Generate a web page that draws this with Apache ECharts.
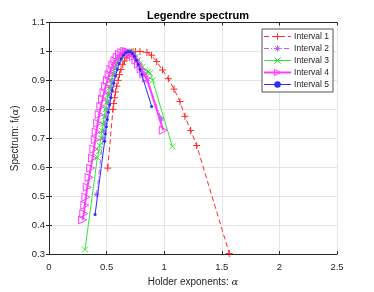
<!DOCTYPE html>
<html><head><meta charset="utf-8">
<script src="https://cdn.jsdelivr.net/npm/echarts@6/dist/echarts.min.js"></script>
<style>html,body{margin:0;padding:0;background:#fff}#c{width:374px;height:292px}</style>
</head><body><div id="c"></div>
<script>
const seriesNames = ['Interval 1','Interval 2','Interval 3','Interval 4','Interval 5'];
const xTicks = [0,0.5,1,1.5,2,2.5];
const yTicks = [0.3,0.4,0.5,0.6,0.7,0.8,0.9,1,1.1];

const interval1 = [[0.51,0.597],[0.555,0.80],[0.562,0.82],[0.57,0.84],[0.578,0.86],[0.588,0.88],[0.60,0.90],[0.612,0.92],[0.625,0.938],[0.64,0.954],[0.655,0.967],[0.67,0.978],[0.685,0.987],[0.70,0.993],[0.715,0.997],[0.73,0.999],[0.75,1.0],[0.79,1.0],[0.85,0.997],[0.89,0.987],[0.935,0.965],[0.985,0.936],[1.036,0.906],[1.085,0.87],[1.137,0.827],[1.18,0.776],[1.23,0.727],[1.282,0.675],[1.565,0.302]];
const interval2 = [[0.414,0.506],[0.468,0.70],[0.476,0.725],[0.484,0.75],[0.493,0.775],[0.502,0.80],[0.512,0.825],[0.523,0.85],[0.535,0.875],[0.548,0.90],[0.563,0.923],[0.58,0.945],[0.598,0.963],[0.617,0.978],[0.637,0.99],[0.657,0.997],[0.678,1.0],[0.698,0.999],[0.718,0.994],[0.738,0.985],[0.758,0.972],[0.778,0.957],[0.80,0.94],[0.825,0.92],[0.85,0.9],[0.975,0.767]];
const interval3 = [[0.3125,0.316],[0.42,0.634],[0.432,0.655],[0.44,0.675],[0.45,0.70],[0.46,0.725],[0.47,0.75],[0.48,0.775],[0.49,0.80],[0.50,0.825],[0.512,0.85],[0.525,0.875],[0.54,0.90],[0.555,0.922],[0.572,0.943],[0.59,0.962],[0.61,0.978],[0.63,0.99],[0.65,0.997],[0.67,1.0],[0.69,1.0],[0.71,0.997],[0.73,0.99],[0.75,0.981],[0.77,0.97],[0.79,0.958],[0.81,0.946],[0.835,0.935],[0.86,0.93],[0.878,0.925],[0.90,0.90],[1.07,0.672]];
const interval4 = [[0.292,0.418],[0.302,0.44],[0.311,0.469],[0.32,0.497],[0.332,0.531],[0.348,0.565],[0.362,0.597],[0.378,0.632],[0.39,0.663],[0.402,0.695],[0.41,0.722],[0.423,0.752],[0.436,0.782],[0.45,0.81],[0.465,0.835],[0.478,0.858],[0.492,0.88],[0.507,0.9],[0.522,0.92],[0.538,0.938],[0.555,0.954],[0.573,0.968],[0.592,0.98],[0.612,0.99],[0.632,0.996],[0.653,1.0],[0.673,1.0],[0.693,0.997],[0.713,0.991],[0.733,0.982],[0.755,0.97],[0.777,0.956],[0.80,0.94],[0.822,0.923],[0.848,0.908],[0.992,0.728]];
const interval5 = [[0.40,0.437],[0.483,0.69],[0.49,0.715],[0.498,0.74],[0.507,0.765],[0.516,0.79],[0.526,0.815],[0.537,0.84],[0.549,0.865],[0.562,0.89],[0.577,0.915],[0.593,0.938],[0.61,0.958],[0.628,0.975],[0.647,0.988],[0.667,0.996],[0.687,1.0],[0.707,0.999],[0.725,0.993],[0.742,0.983],[0.758,0.97],[0.774,0.955],[0.79,0.938],[0.805,0.92],[0.891,0.81]];

const dataAll = [interval1, interval2, interval3, interval4, interval5];
const colors = ['#ff2a2a','#b060ff','#33e633','#ff3dff','#2b2bff'];
const plusPath = 'path://M5,0 L5,10 M0,5 L10,5';
const xPath = 'path://M0,0 L10,10 M0,10 L10,0';
const starPath = 'path://M5,0 L5,10 M0,5 L10,5 M1.5,1.5 L8.5,8.5 M1.5,8.5 L8.5,1.5';
const triPath = 'path://M0,0 L10,5 L0,10 Z';
const symbols = [plusPath, starPath, xPath, triPath, 'circle'];
const symSizes = [7, 6, 6, 8, 3];
const lineTypes = [[5,3],[5,2,1,2],'solid','solid','solid'];
const lineWidths = [1,1,1,2,1];

const axisColor = '#262626';
const font = '"Liberation Sans", Arial, sans-serif';

function markStyle(i){
  return i===4 ? {color:colors[i], borderWidth:0} : {color:'rgba(0,0,0,0)', borderColor:colors[i], borderWidth:1};
}
const chart = echarts.init(document.getElementById('c'), null, {renderer:'canvas'});
const fmt = v => String(Math.round(v*10)/10);
const series = dataAll.map((d,i)=>({
  name: seriesNames[i], type:'line', data:d, xAxisIndex:0, yAxisIndex:0,
  symbol: symbols[i], symbolSize: symSizes[i], showAllSymbol:true, animation:false,
  lineStyle:{color:colors[i], width:lineWidths[i], type:lineTypes[i]},
  itemStyle: markStyle(i),
  emphasis:{disabled:true}, z: 2+i
}));
chart.setOption({
  animation:false,
  textStyle:{fontFamily:font},
  title:{text:'Legendre spectrum', left:193, top:5, textAlign:'center',
    textStyle:{fontSize:11, fontWeight:'bold', color:'#000', fontFamily:font}},
  grid:{left:49, right:37, top:22.5, bottom:33, containLabel:false},
  legend:{orient:'vertical', right:41, top:29, itemWidth:27, itemHeight:8, itemGap:3,
    padding:[3,4,3,1], backgroundColor:'#fff', borderColor:axisColor, borderWidth:0.8,
    textStyle:{fontSize:8.5, color:axisColor, fontFamily:font, padding:[0,0,0,-2]},
    data: seriesNames.map((n,i)=>({name:n,
      itemStyle: markStyle(i),
      lineStyle:{color:colors[i], width:lineWidths[i], type:lineTypes[i]}}))},
  xAxis:[{type:'value', min:0, max:2.5, interval:0.5,
    name:'Holder exponents: {i|α}', nameLocation:'middle', nameGap:21,
    nameTextStyle:{fontSize:10, color:axisColor, fontFamily:font, rich:{i:{fontStyle:'italic', fontSize:10, fontFamily:'DejaVu Serif'}}},
    axisLine:{lineStyle:{color:axisColor, width:1}},
    axisTick:{inside:true, length:3, lineStyle:{color:axisColor}},
    axisLabel:{fontSize:9.5, color:axisColor, margin:8, formatter:v=>fmt(v)},
    splitLine:{show:true, lineStyle:{color:'#e5e5e5', width:1}}},
   {type:'value', position:'top', min:0, max:2.5, interval:0.5,
    axisLine:{show:true, lineStyle:{color:axisColor}},
    axisTick:{inside:true, length:3, lineStyle:{color:axisColor}},
    axisLabel:{show:false}, splitLine:{show:false}}],
  yAxis:[{type:'value', min:0.3, max:1.1, interval:0.1,
    name:'{n|Spectrum: f}{s|l}{n|(}{i|α}{n|)}', nameLocation:'middle', nameGap:16,
    nameTextStyle:{color:axisColor, rich:{n:{fontSize:10, color:axisColor, fontFamily:font}, s:{fontSize:6.5, color:axisColor, fontFamily:font, verticalAlign:'bottom', padding:[4,0,0,0]}, i:{fontSize:10, fontStyle:'italic', color:axisColor, fontFamily:'DejaVu Serif'}}},
    axisLine:{lineStyle:{color:axisColor, width:1}},
    axisTick:{inside:true, length:3, lineStyle:{color:axisColor}},
    axisLabel:{fontSize:9.5, color:axisColor, margin:4, formatter:v=>fmt(v)},
    splitLine:{show:true, lineStyle:{color:'#e5e5e5', width:1}}},
   {type:'value', position:'right', min:0.3, max:1.1, interval:0.1,
    axisLine:{show:true, lineStyle:{color:axisColor}},
    axisTick:{inside:true, length:3, lineStyle:{color:axisColor}},
    axisLabel:{show:false}, splitLine:{show:false}}],
  series: series
});
</script></body></html>
